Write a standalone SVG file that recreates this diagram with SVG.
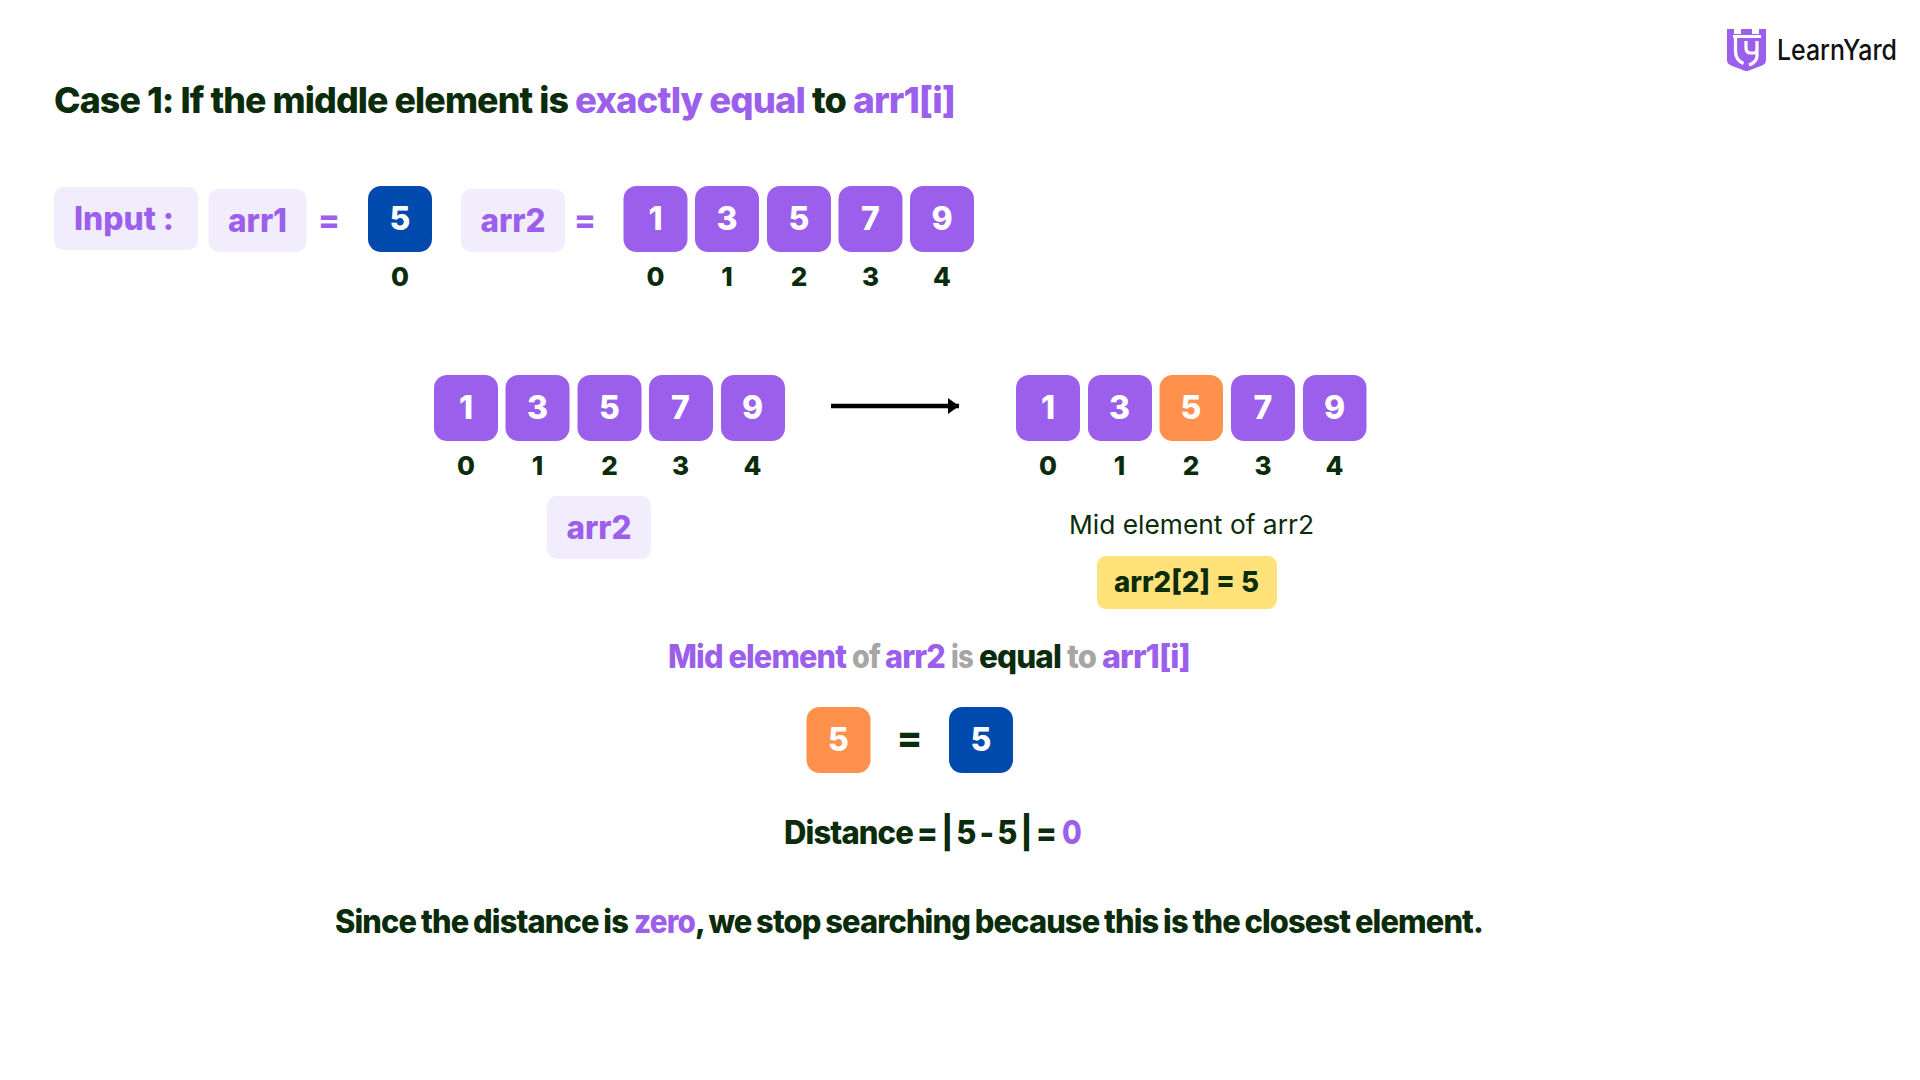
<svg xmlns="http://www.w3.org/2000/svg" width="1920" height="1080" viewBox="0 0 1920 1080">
<style>
text{font-family:"Inter","Liberation Sans",sans-serif}
.t{font-weight:800;fill:#0b2c0b}
.p{fill:#9b5fec}
.g{fill:#a6a6a6}
.d{fill:#0b2c0b}
.b{font-size:32px;font-weight:800;text-anchor:middle;fill:#fff}
.i{font-size:26px;font-weight:800;text-anchor:middle;fill:#0b2c0b}
.l{font-size:32px;font-weight:800;text-anchor:middle;fill:#9b5fec}
.pb{fill:#9b5fec}.ob{fill:#ff914d}.bb{fill:#004aad}.lb{fill:#f2edfc}
.tight{letter-spacing:-.9px}
</style>
<defs>
<marker id="ah" markerUnits="userSpaceOnUse" markerWidth="12" markerHeight="16" refX="11" refY="8" orient="auto"><path d="M0 0L11 8L0 16Z" fill="#000"/></marker>
</defs>
<rect width="1920" height="1080" fill="#fff"/>
<g id="logo">
<path d="M1727 29H1734V34H1741V29H1752V34H1759V29H1766V60Q1766 64 1762 65.500L1749 70.500Q1746.500 71.500 1744 70.500L1731 65.500Q1727 64 1727 60Z" fill="#9b5fec"/>
<path d="M1733 36.500H1761M1735.500 37V51Q1735.500 60 1743.500 63.500M1746 41V48Q1746 53 1751 53H1754Q1757 53 1757 49V41M1757 49V56Q1757 62 1749 65" fill="none" stroke="#fff" stroke-width="3.200"/>
<text x="1777" y="60" font-size="28" font-weight="500" fill="#111" textLength="120" lengthAdjust="spacingAndGlyphs">LearnYard</text>
</g>
<text id="title" class="tight" y="113" font-size="36" font-weight="800"><tspan class="d" x="54" textLength="514" lengthAdjust="spacingAndGlyphs">Case 1: If the middle element is</tspan><tspan class="p" x="575" textLength="230" lengthAdjust="spacingAndGlyphs">exactly equal</tspan><tspan class="d" x="812" textLength="34" lengthAdjust="spacingAndGlyphs">to</tspan><tspan class="p" x="853" textLength="102" lengthAdjust="spacingAndGlyphs">arr1[i]</tspan></text>
<g id="input-label"><rect class="lb" x="54" y="187" width="144" height="63" rx="10"/><text class="l" x="124" y="230" textLength="100" lengthAdjust="spacingAndGlyphs">Input :</text></g>
<g id="arr1-label"><rect class="lb" x="208.500" y="189" width="98" height="63" rx="10"/><text class="l" x="257.500" y="232" textLength="59" lengthAdjust="spacingAndGlyphs">arr1</text></g>
<text id="eq1" class="l" x="329" y="231" font-size="35">=</text>
<g id="arr1-0"><rect class="bb" x="368" y="186" width="64" height="66" rx="13"/><text class="b" x="400" y="230">5</text><text class="i" x="400" y="286">0</text></g>
<g id="arr2-label"><rect class="lb" x="461" y="189" width="104" height="63" rx="10"/><text class="l" x="513" y="232" textLength="65" lengthAdjust="spacingAndGlyphs">arr2</text></g>
<text id="eq2" class="l" x="585" y="231" font-size="35">=</text>
<g id="a0"><rect class="pb" x="623.500" y="186" width="64" height="66" rx="13"/><text class="b" x="655.500" y="230">1</text><text class="i" x="655.500" y="286">0</text></g>
<g id="a1"><rect class="pb" x="695" y="186" width="64" height="66" rx="13"/><text class="b" x="727" y="230">3</text><text class="i" x="727" y="286">1</text></g>
<g id="a2"><rect class="pb" x="767" y="186" width="64" height="66" rx="13"/><text class="b" x="799" y="230">5</text><text class="i" x="799" y="286">2</text></g>
<g id="a3"><rect class="pb" x="838.500" y="186" width="64" height="66" rx="13"/><text class="b" x="870.500" y="230">7</text><text class="i" x="870.500" y="286">3</text></g>
<g id="a4"><rect class="pb" x="910" y="186" width="64" height="66" rx="13"/><text class="b" x="942" y="230">9</text><text class="i" x="942" y="286">4</text></g>

<g id="b0"><rect class="pb" x="434" y="375" width="64" height="66" rx="13"/><text class="b" x="466" y="419">1</text><text class="i" x="466" y="475">0</text></g>
<g id="b1"><rect class="pb" x="505.500" y="375" width="64" height="66" rx="13"/><text class="b" x="537.500" y="419">3</text><text class="i" x="537.500" y="475">1</text></g>
<g id="b2"><rect class="pb" x="577.500" y="375" width="64" height="66" rx="13"/><text class="b" x="609.500" y="419">5</text><text class="i" x="609.500" y="475">2</text></g>
<g id="b3"><rect class="pb" x="649" y="375" width="64" height="66" rx="13"/><text class="b" x="680.500" y="419">7</text><text class="i" x="680.500" y="475">3</text></g>
<g id="b4"><rect class="pb" x="721" y="375" width="64" height="66" rx="13"/><text class="b" x="752.500" y="419">9</text><text class="i" x="752.500" y="475">4</text></g>
<g id="arr2-caption"><rect class="lb" x="547" y="496" width="104" height="63" rx="10"/><text class="l" x="599" y="539" textLength="65" lengthAdjust="spacingAndGlyphs">arr2</text></g>
<g id="connectors"><line x1="831" y1="406" x2="959" y2="406" stroke="#000" stroke-width="4.500" marker-end="url(#ah)"/></g>
<g id="c0"><rect class="pb" x="1016" y="375" width="64" height="66" rx="13"/><text class="b" x="1048" y="419">1</text><text class="i" x="1048" y="475">0</text></g>
<g id="c1"><rect class="pb" x="1088" y="375" width="64" height="66" rx="13"/><text class="b" x="1119.500" y="419">3</text><text class="i" x="1119.500" y="475">1</text></g>
<g id="c2"><rect class="ob" x="1159.500" y="375" width="63.500" height="66" rx="13"/><text class="b" x="1191" y="419">5</text><text class="i" x="1191" y="475">2</text></g>
<g id="c3"><rect class="pb" x="1231" y="375" width="64" height="66" rx="13"/><text class="b" x="1263" y="419">7</text><text class="i" x="1263" y="475">3</text></g>
<g id="c4"><rect class="pb" x="1303" y="375" width="63.500" height="66" rx="13"/><text class="b" x="1334.500" y="419">9</text><text class="i" x="1334.500" y="475">4</text></g>
<text id="mid-caption" x="1069" y="534" font-size="26" fill="#0b2c0b" textLength="245" lengthAdjust="spacingAndGlyphs">Mid element of arr2</text>
<g id="mid-value"><rect x="1097" y="556" width="180" height="53" rx="9" fill="#ffe27a"/><text x="1114" y="592" font-size="29" class="t" textLength="145" lengthAdjust="spacingAndGlyphs">arr2[2] = 5</text></g>
<text id="statement" class="tight" y="668" font-size="32" font-weight="800"><tspan class="p" x="668" textLength="178" lengthAdjust="spacingAndGlyphs">Mid element</tspan><tspan class="g" x="852" textLength="28" lengthAdjust="spacingAndGlyphs">of</tspan><tspan class="p" x="885" textLength="60" lengthAdjust="spacingAndGlyphs">arr2</tspan><tspan class="g" x="951" textLength="22" lengthAdjust="spacingAndGlyphs">is</tspan><tspan class="d" x="979" textLength="82" lengthAdjust="spacingAndGlyphs">equal</tspan><tspan class="g" x="1067" textLength="29" lengthAdjust="spacingAndGlyphs">to</tspan><tspan class="p" x="1102" textLength="88" lengthAdjust="spacingAndGlyphs">arr1[i]</tspan></text>
<g id="cmp-left"><rect class="ob" x="806.500" y="707" width="64" height="66" rx="13"/><text class="b" x="838.500" y="751">5</text></g>
<text id="cmp-eq" x="909.500" y="751" font-size="38" font-weight="800" text-anchor="middle" fill="#0b2c0b">=</text>
<g id="cmp-right"><rect class="bb" x="949" y="707" width="64" height="66" rx="13"/><text class="b" x="981" y="751">5</text></g>
<text id="distance" class="tight" y="844" font-size="32" font-weight="800" style="word-spacing:-2px"><tspan class="d" x="784" textLength="272" lengthAdjust="spacingAndGlyphs">Distance = | 5 - 5 | =</tspan><tspan class="p" x="1062" textLength="19" lengthAdjust="spacingAndGlyphs">0</tspan></text>
<text id="conclusion" class="tight" y="933" font-size="32" font-weight="800" style="word-spacing:-1.200px"><tspan class="d" x="335" textLength="293" lengthAdjust="spacingAndGlyphs">Since the distance is</tspan><tspan class="p" x="634" textLength="61" lengthAdjust="spacingAndGlyphs">zero</tspan><tspan class="d" x="695" textLength="788" lengthAdjust="spacingAndGlyphs">, we stop searching because this is the closest element.</tspan></text>
</svg>
